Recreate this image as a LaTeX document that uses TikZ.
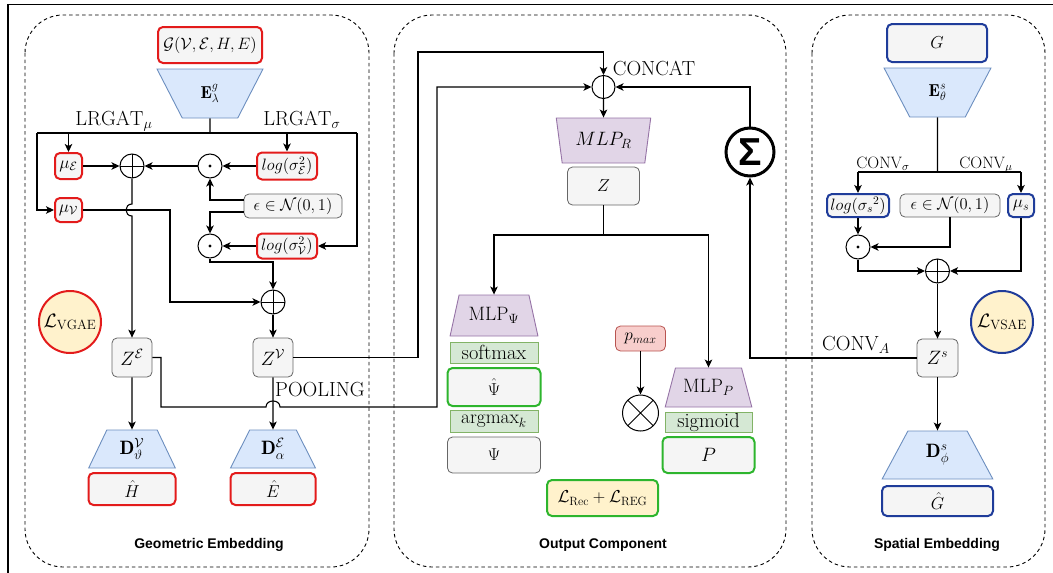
\RequirePackage{fix-cm}
\documentclass[tikz,border=0pt]{standalone}
\usepackage{graphicx}
\usepackage{fontspec}
\newfontfamily\sansb{Liberation Sans}
\usetikzlibrary{shapes.geometric,arrows.meta,calc}
\newcommand{\tx}[1]{\scalebox{1.18}{#1}}
\newcommand{\tm}[1]{\scalebox{1.12}{#1}}
\definecolor{cred}{HTML}{E31B1B}
\definecolor{cgreen}{HTML}{2DB52D}
\definecolor{cblue}{HTML}{1F3C9A}
\definecolor{cgrayf}{HTML}{F5F5F5}
\definecolor{cgrayd}{HTML}{666666}
\definecolor{tblf}{HTML}{DAE8FC}
\definecolor{tbld}{HTML}{6C8EBF}
\definecolor{purf}{HTML}{E1D5E7}
\definecolor{purd}{HTML}{9673A6}
\definecolor{grnf}{HTML}{D5E8D4}
\definecolor{grnd}{HTML}{82B366}
\definecolor{yelf}{HTML}{FFF2CC}
\definecolor{pinkf}{HTML}{F8CECC}
\definecolor{pinkd}{HTML}{B85450}
\tikzset{
  sz/.style 2 args={minimum width=#1pt, minimum height=#2pt},
  smallf/.style={font=\fontsize{16.5}{19}\selectfont},
  box/.style={draw=cgrayd, fill=cgrayf, rounded corners=5pt, line width=0.8pt, inner sep=0pt},
  rbox/.style={box, draw=cred, line width=2pt},
  bbox/.style={box, draw=cblue, line width=2pt},
  gbox/.style={box, draw=cgreen, line width=2pt},
  sbox/.style={draw=grnd, fill=grnf, line width=0.8pt, inner sep=0pt},
  trap/.style={trapezium, trapezium stretches=true, draw=tbld, fill=tblf, line width=0.9pt, inner sep=0pt},
  ptrap/.style={trap, draw=purd, fill=purf},
  inv/.style={shape border rotate=180},
  ang/.style={trapezium left angle=#1, trapezium right angle=#1},
  opcirc/.style={circle, draw, minimum size=24pt, inner sep=0pt, line width=1pt},
  oplus/.style={opcirc, path picture={\draw[line width=0.9pt] (path picture bounding box.north) -- (path picture bounding box.south) (path picture bounding box.west) -- (path picture bounding box.east);}},
  odot/.style={opcirc, path picture={\fill (path picture bounding box.center) circle (1.6pt);}},
  otimes/.style={opcirc, minimum size=36pt, path picture={\draw[line width=0.9pt] (path picture bounding box.north west) -- (path picture bounding box.south east) (path picture bounding box.north east) -- (path picture bounding box.south west);}},
  ocat/.style={opcirc, minimum size=23pt, path picture={\draw[line width=0.9pt] (path picture bounding box.north) -- (path picture bounding box.south);}},
  lossc/.style={circle, fill=yelf, line width=2pt, minimum size=62pt, inner sep=0pt},
  panel/.style={dash pattern=on 3.5pt off 3pt, rounded corners=38pt, line width=0.9pt},
  lbl/.style={anchor=base, inner sep=0pt},
  ttl/.style={anchor=base, inner sep=0pt, font=\sansb\bfseries\fontsize{14}{16}\selectfont},
}
\begin{document}
\begin{tikzpicture}[x=1pt,y=-1pt, line width=1.1pt,
  >={Stealth[length=8pt,width=7.5pt,inset=2pt]},
  every node/.style={font=\fontsize{17.28}{20}\selectfont}]
\useasboundingbox (0,0) rectangle (1053,573);
% frame
\draw[line width=1.3pt] (8,573) -- (8,4.5) -- (1053,4.5);
% panels
\draw[panel] (25,15) rectangle (369,567);
\draw[panel] (394,15) rectangle (786,567);
\draw[panel] (812,15) rectangle (1045,567);

% ---------------- left: geometric embedding
\node[rbox, smallf, sz={104}{36}] (G) at (210,45) {$\mathcal{G}(\mathcal{V},\mathcal{E},H,E)$};
\node[trap, inv, ang=64, sz={106}{49}] (Eg) at (210,93.5) {$\mathbf{E}^g_\lambda$};
\node[lbl] (lmu) at (114,125) {\tx{$\mathrm{LRGAT}_\mu$}};
\node[lbl] (lsig) at (302,125) {\tx{$\mathrm{LRGAT}_\sigma$}};
\coordinate (jM) at (210,133);
\coordinate (jL) at (37,133);
\coordinate (jR) at (357,133);
\node[rbox, sz={27}{26}] (muE) at (68.5,166) {$\mu_{\mathcal{E}}$};
\node[rbox, sz={27}{24}] (muV) at (68.5,210) {$\mu_{\mathcal{V}}$};
\node[rbox, smallf, sz={60}{27}] (logE) at (287,166) {$log(\sigma^2_{\mathcal{E}})$};
\node[rbox, smallf, sz={60}{25}] (logV) at (287,246) {$log(\sigma^2_{\mathcal{V}})$};
\node[box, smallf, sz={98}{24}] (eps1) at (293,206) {$\epsilon\in\mathcal{N}(0,1)$};
\node[oplus] (plus1) at (132,166) {};
\node[odot] (dot1) at (210,166) {};
\node[odot] (dot2) at (210,246) {};
\node[oplus] (plus2) at (273,302) {};
\coordinate (c1) at (273,262);
\coordinate (c2) at (170,210);
\node[box, sz={40}{39}] (ZE) at (132,357.5) {\tm{$Z^{\mathcal{E}}$}};
\node[box, sz={40}{39}] (ZV) at (273,357.5) {\tm{$Z^{\mathcal{V}}$}};
\node[lossc, draw=cred] (Lg) at (70,322) {\tm{$\mathcal{L}_{\mathrm{VGAE}}$}};
\node[trap, ang=67, sz={87}{38}] (DV) at (132,449) {\tm{$\mathbf{D}^{\mathcal{V}}_{\vartheta}$}};
\node[rbox, sz={87}{32}] (Hh) at (132,489) {$\hat{H}$};
\node[trap, ang=65, sz={85}{38}] (DE) at (273,449) {\tm{$\mathbf{D}^{\mathcal{E}}_{\alpha}$}};
\node[rbox, sz={85}{32}] (Eh) at (273,489) {$\hat{E}$};
\node[lbl] (pool) at (320,396) {\tx{POOLING}};
\node[ttl] (t1) at (209,548) {Geometric Embedding};

\draw (Eg) -- (jM);
\draw (jL) -- (jR);
\draw[->] (muE.north |- jL) -- (muE.north);
\draw[->] (jL) |- (muV.west);
\draw[->] (logE.north |- jR) -- (logE.north);
\draw[->] (jR) |- (logV.east);
\draw[->] (logE) -- (dot1);
\draw[->] (dot1) -- (plus1);
\draw[->] (muE) -- (plus1);
\draw[->] ([yshift=6pt]eps1.west) -| (dot1.south);
\draw[->] ([yshift=-6pt]eps1.west) -| (dot2.north);
\draw[->] (logV) -- (dot2);
\draw[->] (dot2.south) |- (c1) -- (plus2.north);
\draw[->] (muV.east) -- (c2) |- (plus2.west);
\draw[->] (plus1.south) -- (132,204) .. controls (124,204) and (124,216) .. (132,216) -- (ZE.north);
\draw[->] (plus2) -- (ZV);
\draw[->] (ZE) -- (DV);
\draw[->] (ZV) -- (DE);

% ---------------- middle: output component
\node[ocat] (cat) at (603.5,87) {};
\node[lbl] (catl) at (654,75) {\tx{CONCAT}};
\node[ptrap, inv, ang=76, sz={95}{45}] (MLPR) at (603.5,140.5) {\tm{$MLP_R$}};
\node[box, sz={72}{38}] (Z) at (603.5,186) {$Z$};
\coordinate (zs) at (603.5,235);
\node[ptrap, ang=68, sz={88}{41}] (MLPpsi) at (494,315.5) {\tm{$\mathrm{MLP}_\Psi$}};
\node[sbox, sz={88}{21}] (soft) at (494,352.5) {\tx{$\mathrm{softmax}$}};
\node[gbox, sz={93}{38}] (psih) at (494,387) {$\hat{\Psi}$};
\node[sbox, sz={88}{22}] (argm) at (494,421) {\tm{$\mathrm{argmax}_k$}};
\node[box, sz={93}{36}] (psi) at (494,455) {$\Psi$};
\node[box, draw=pinkd, fill=pinkf, sz={50}{25}] (pmax) at (640.5,338.5) {$p_{max}$};
\node[otimes] (otim) at (640.5,413) {};
\node[ptrap, ang=64, sz={87}{39}] (MLPP) at (708.5,387.5) {\tm{$\mathrm{MLP}_P$}};
\node[sbox, sz={87}{20}] (sigm) at (708.5,422) {\tx{$\mathrm{sigmoid}$}};
\node[gbox, sz={92}{36}] (P) at (708.5,455) {\tm{$P$}};
\node[gbox, fill=yelf, sz={111}{36}] (Loss) at (602.5,498) {$\mathcal{L}_{\mathrm{Rec}}+\mathcal{L}_{\mathrm{REG}}$};
\node[circle, draw, line width=3pt, minimum size=48pt, inner sep=0pt, font=\sansb\bfseries\fontsize{30}{30}\selectfont] (Sig) at (750,152) {\scalebox{1.3}{Σ}};
\node[ttl] (t2) at (603,548) {Output Component};

\draw[->] (ZE.east) -- (161,357.5) -- (161,407) -- (266,407) .. controls (266,399) and (280,399) .. (280,407) -- (437,407) |- (cat.west);
\draw[->] (ZV.east) -| (418,52) -| (cat.north);
\draw[->] (cat) -- (MLPR);
\draw (Z.south) -- (zs);
\draw[->] (zs) -| (MLPpsi.north);
\draw[->] (zs) -| (MLPP.north);
\draw[->] (pmax) -- (otim);
\draw[->] (Sig.north) |- (cat.east);

% ---------------- right: spatial embedding
\node[bbox, sz={100}{38}] (G2) at (937,43) {$G$};
\node[trap, inv, ang=63, sz={107}{49}] (Es) at (937.5,92.5) {$\mathbf{E}^s_\theta$};
\coordinate (jS) at (937.5,172);
\node[lbl, smallf] (csig) at (883,168) {$\mathrm{CONV}_\sigma$};
\node[lbl, smallf] (cmu) at (986,168) {$\mathrm{CONV}_\mu$};
\node[bbox, smallf, sz={62}{23}] (logs) at (858,205.5) {$log({\sigma_s}^2)$};
\node[box, smallf, sz={100}{23}] (eps2) at (950,205.5) {$\epsilon\in\mathcal{N}(0,1)$};
\node[bbox, sz={26}{23}] (mus) at (1021,205.5) {$\mu_s$};
\node[odot] (dot3) at (858,247) {};
\node[oplus] (plus3) at (937.5,271) {};
\node[box, sz={41}{38}] (Zs) at (937.5,358) {\tm{$Z^s$}};
\node[lossc, draw=cblue] (Ls) at (1002,322) {\tm{$\mathcal{L}_{\mathrm{VSAE}}$}};
\node[trap, ang=64, sz={111}{48}] (Ds) at (937.5,455) {\tm{$\mathbf{D}^s_\phi$}};
\node[bbox, sz={111}{30}] (Gh) at (937.5,501) {$\hat{G}$};
\node[lbl] (conva) at (856,350) {\tx{$\mathrm{CONV}_A$}};
\node[ttl] (t3) at (937,548) {Spatial Embedding};

\draw (Es) -- (jS);
\draw (logs.north |- jS) -- (mus.north |- jS);
\draw[->] (logs.north |- jS) -- (logs.north);
\draw[->] (mus.north |- jS) -- (mus.north);
\draw[->] (logs) -- (dot3);
\draw[->] (eps2.south) |- (dot3.east);
\draw[->] (dot3.south) |- (plus3.west);
\draw[->] (mus.south) |- (plus3.east);
\draw[->] (plus3) -- (Zs);
\draw[->] (Zs) -- (Ds);
\draw[->] (Zs.west) -| (Sig.south);
\end{tikzpicture}
\end{document}
